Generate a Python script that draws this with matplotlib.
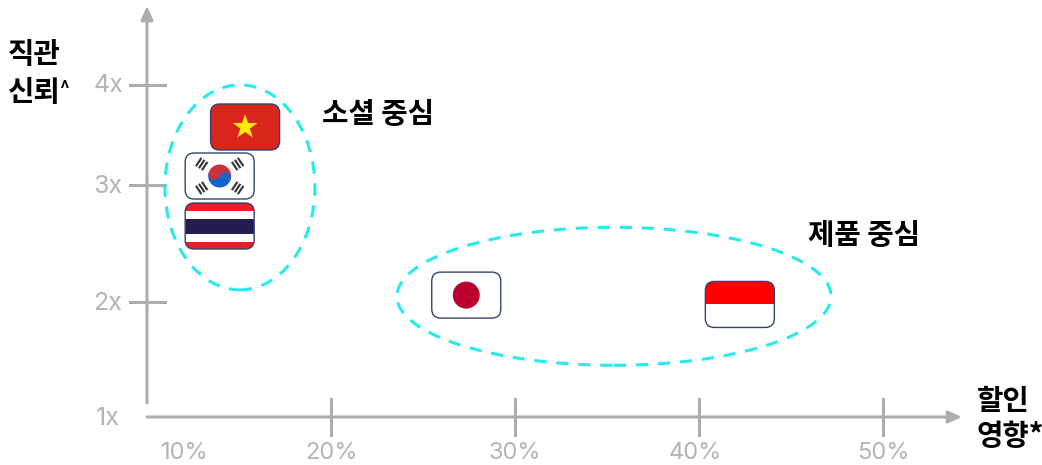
import numpy as np
import matplotlib
matplotlib.use("Agg")
import matplotlib.pyplot as plt
from matplotlib.patches import Ellipse, FancyBboxPatch, Rectangle, Circle, Polygon, Wedge
from matplotlib.transforms import Affine2D

plt.rcParams['font.family'] = ['Noto Sans CJK KR', 'DejaVu Sans']

# discount impact (%) and intuitive trust (x) per market
countries = ["VN", "KR", "TH", "JP", "ID"]
discount = [15.33, 13.95, 13.95, 27.35, 42.22]
trust = [3.58, 3.09, 2.65, 2.06, 1.98]

x_ticks = [20, 30, 40, 50]
x_labels = ["10%", "20%", "30%", "40%", "50%"]
x_label_pos = [12.05, 20, 30, 39.8, 50]
y_ticks = [2, 3, 4]
y_labels = ["1x", "2x", "3x", "4x"]
y_label_pos = [1, 2, 3, 4]

# the trust axis is not evenly spaced
trust_steps = [0, 1, 2, 3, 4, 5]
trust_height = [-0.247, 0, 0.247, 0.4989, 0.714, 0.929]


def to_height(v):
    return np.interp(v, trust_steps, trust_height)


def from_height(h):
    return np.interp(h, trust_height, trust_steps)


GREY = "#adadad"
LABEL = "#b4b4b4"
CYAN = "#25ecea"
EDGE = "#33446e"

fig = plt.figure(figsize=(10.42, 4.65), dpi=100)
ax = fig.add_axes([0, 0, 1, 1])
ax.set_yscale("function", functions=(to_height, from_height))
ax.set_xlim(10 - 147 / 18.4, 10 + (1042 - 147) / 18.4)
ax.set_ylim(from_height(-48 / 465), from_height(417 / 465))
ax.axis("off")


def px(n):
    return n * 0.72


def at(x, y):
    # pixel offsets around a data point, y up
    ox, oy = ax.transData.transform((x, y))
    return Affine2D().translate(ox, oy)


def rounded(w, h, tr, **kw):
    return FancyBboxPatch((-w / 2, -h / 2), w, h, boxstyle="round,pad=0,rounding_size=9",
                          transform=tr, **kw)


def flag(code, x, y):
    tr = at(x, y)
    w, h = 69, 46
    box = rounded(w, h, tr, fc="white", ec="none", zorder=3)
    ax.add_patch(box)
    items = []
    if code == "VN":
        items.append(Rectangle((-w / 2, -h / 2), w, h, fc="#da251d", transform=tr))
        ang = np.deg2rad(90 + np.arange(10) * 36)
        rad = np.where(np.arange(10) % 2 == 0, 13, 5)
        items.append(Polygon(np.c_[rad * np.cos(ang), rad * np.sin(ang)], fc="#ffee00", transform=tr))
    elif code == "KR":
        # taegeuk, turned a little clockwise
        spin = Affine2D().rotate_deg(-20) + tr
        items.append(Wedge((0, 0), 11.5, 0, 180, fc="#cd2e3a", transform=spin))
        items.append(Wedge((0, 0), 11.5, 180, 360, fc="#0f64cd", transform=spin))
        items.append(Wedge((-5.75, 0), 5.75, 180, 360, fc="#cd2e3a", transform=spin))
        items.append(Wedge((5.75, 0), 5.75, 0, 180, fc="#0f64cd", transform=spin))
        for sx, sy in [(-1, 1), (1, 1), (-1, -1), (1, -1)]:
            rot = Affine2D().rotate_deg(np.degrees(np.arctan2(sy * 12, sx * 18)))
            for off in (-3.6, 0, 3.6):
                r = Rectangle((21.6 + off - 1.1, -5), 2.2, 10, fc="#3a3a3a", transform=rot + tr)
                items.append(r)
    elif code == "TH":
        items.append(Rectangle((-w / 2, -h / 2), w, h, fc="#ee1c25", transform=tr))
        items.append(Rectangle((-w / 2, -15.5), w, 31, fc="white", transform=tr))
        items.append(Rectangle((-w / 2, -7.5), w, 15, fc="#241d4f", transform=tr))
    elif code == "JP":
        items.append(Circle((0, 0), 13.5, fc="#bc002d", transform=tr))
    elif code == "ID":
        items.append(Rectangle((-w / 2, 0), w, h / 2, fc="#ff0000", transform=tr))
    for it in items:
        it.set_edgecolor("none")
        it.set_zorder(4)
        ax.add_patch(it)
        it.set_clip_path(box)
    ax.add_patch(rounded(w, h, tr, fc="none", ec=EDGE, lw=1.0, zorder=5))


# axis lines with arrowheads
arrow = dict(arrowstyle="-|>,head_width=0.36,head_length=0.8", color=GREY, lw=2.2, shrinkA=0, shrinkB=0)
ax.annotate("", xy=(147, 465 - 6), xytext=(147, 465 - 403), xycoords="figure pixels", arrowprops=arrow)
ax.annotate("", xy=(962, 48), xytext=(147, 48), xycoords="figure pixels", arrowprops=arrow)

# tick marks
for v in x_ticks:
    ax.plot([v, v], [from_height(18 / 465), from_height(-18 / 465)], color=GREY, lw=2.2, zorder=1)
for v in y_ticks:
    ax.plot([10 - 17 / 18.4, 10 + 18 / 18.4], [v, v], color=GREY, lw=2.2, zorder=1)

for v, s in zip(x_label_pos, x_labels):
    ax.annotate(s, (v, 1), xytext=(0, -px(36)), textcoords="offset points", ha="center", va="center",
                color=LABEL, fontsize=17, family="Inter", annotation_clip=False)
for v, s in zip(y_label_pos, y_labels):
    ax.annotate(s, (10, v), xytext=(-px(39), -px(1)), textcoords="offset points", ha="center", va="center",
                color=LABEL, fontsize=18, family="Inter")

# cluster outlines
ax.add_patch(Ellipse((0, 0), 150, 205, transform=at(15.05, 2.98), fc="none", ec=CYAN, lw=2.2,
                     ls=(0, (4, 3.2)), zorder=2))
ax.add_patch(Ellipse((0, 0), 434, 138, transform=at(35.38, 2.05), fc="none", ec=CYAN, lw=2.2,
                     ls=(0, (4, 3.2)), zorder=2))

for code, x, y in zip(countries, discount, trust):
    flag(code, x, y)

# bold captions
captions = [("소셜 중심", 322, 114), ("제품 중심", 808, 235), ("직관", 8, 54),
            ("신뢰", 8, 92), ("할인", 977, 401), ("영향*", 976, 436)]
for s, tx, ty in captions:
    fig.text(tx / 1042, 1 - ty / 465, s, ha="left", va="center", fontweight="bold", color="black", fontsize=20.7)
fig.text(60 / 1042, 1 - 88 / 465, "^", ha="left", va="center", fontweight="bold", color="black", fontsize=12)

fig.savefig("out.png", dpi=100)
